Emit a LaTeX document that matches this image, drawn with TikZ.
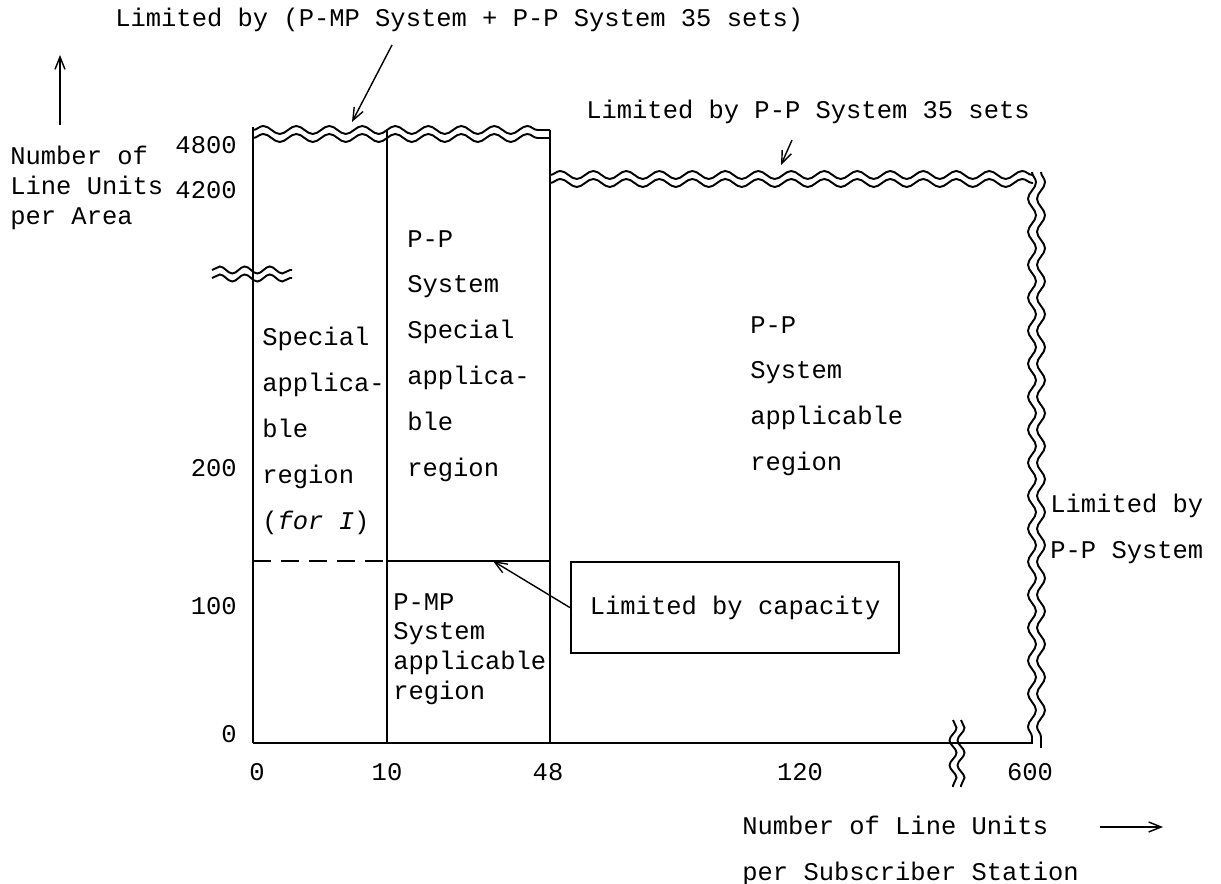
\documentclass[tikz,border=0pt]{standalone}
\usepackage{fontspec}
\setmonofont{Liberation Mono}
\usetikzlibrary{decorations.pathmorphing,arrows.meta}
\tikzset{
	ln/.style={line width=1.3pt},
	wavy/.style={line width=1.1pt,decorate,decoration={snake,segment length=0.66cm,amplitude=0.08cm}},
	swavy/.style={line width=1.1pt,decorate,decoration={snake,segment length=0.5cm,amplitude=0.07cm}},
	txt/.style={font=\ttfamily\fontsize{14.5}{17}\selectfont,inner sep=0pt},
	col/.style={txt,align=left,anchor=north west,font=\ttfamily\fontsize{14.5}{26.1}\selectfont},
	tight/.style={font=\ttfamily\fontsize{14.5}{17}\selectfont},
	pnt/.style={-{Straight Barb[length=2.5mm,width=2mm]},line width=0.8pt},
}

\begin{document}
\begin{tikzpicture}[x=0.02cm,y=-0.02cm]
	\useasboundingbox (0,0) rectangle (1221,884);

	% frame of the chart
	\draw [ln] (253,743) -- (253,127);
	\draw [ln] (387,743) -- (387,130);
	\draw [ln] (550,743) -- (550,130);
	\draw [ln] (253,743) -- (1033,743);
	\draw [ln,dash pattern=on 10pt off 6pt] (253,561) -- (387,561);
	\draw [ln] (387,561) -- (550,561);

	% broken edges
	\draw [wavy] (253,130) -- (550,130);
	\draw [wavy] (253,138) -- (550,138);
	\draw [wavy] (550,175) -- (1033,175);
	\draw [wavy] (550,183) -- (1033,183);
	\draw [wavy] (1032,172) -- (1032,744);
	\draw [wavy] (1041,172) -- (1041,748);
	\draw [swavy] (212,270) -- (292,270);
	\draw [swavy] (212,278) -- (292,278);
	\draw [swavy] (953,720) -- (953,787);
	\draw [swavy] (961,720) -- (961,787);

	% axis values
	\node [txt,anchor=east] (y4800) at (237,145) {4800};
	\node [txt,anchor=east] (y4200) at (237,190) {4200};
	\node [txt,anchor=east] (y200) at (237,468) {200};
	\node [txt,anchor=east] (y100) at (237,606) {100};
	\node [txt,anchor=east] (y0) at (237,734) {0};
	\node [txt] (x0) at (257,772) {0};
	\node [txt] (x10) at (387,772) {10};
	\node [txt] (x48) at (548,772) {48};
	\node [txt] (x120) at (800,772) {120};
	\node [txt] (x600) at (1030,772) {600};

	% axis titles
	\node [col,tight] (ytitle) at (10,146) {Number of\\Line Units\\per Area};
	\coordinate (ybot) at (60,125);
	\coordinate (ytop) at (60,55);
	\draw [pnt] (ybot) -- (ytop);
	\node [col] (xtitle) at (742,816) {Number of Line Units\\per Subscriber Station};
	\coordinate (xa) at (1100,827);
	\coordinate (xb) at (1163,827);
	\draw [pnt] (xa) -- (xb);

	% regions
	\node [col] (spec) at (262,327) {Special\\applica-\\ble\\region\\(\textit{for I})};
	\node [col] (ppspec) at (407,230) {P-P\\System\\Special\\applica-\\ble\\region};
	\node [col] (pp) at (750,316) {P-P\\System\\applicable\\region};
	\node [col,tight] (pmp) at (393,593) {P-MP\\System\\applicable\\region};

	% limits
	\node [txt,anchor=west] (lim1) at (115,20) {Limited by (P-MP System + P-P System 35 sets)};
	\coordinate (lim1a) at (392,45);
	\coordinate (lim1b) at (352,122);
	\draw [pnt] (lim1a) -- (lim1b);
	\node [txt,anchor=west] (lim2) at (586,112) {Limited by P-P System 35 sets};
	\coordinate (lim2a) at (792,140);
	\coordinate (lim2b) at (781,165);
	\draw [pnt] (lim2a) -- (lim2b);
	\node [col] (lim3) at (1050,494) {Limited by\\P-P System};
	\node [txt,draw,ln,anchor=north west,minimum width=6.56cm,minimum height=1.82cm] (cap) at (570,561) {Limited by capacity};
	\coordinate (captip) at (493,561);
	\draw [pnt] (cap.west) -- (captip);
\end{tikzpicture}
\end{document}
